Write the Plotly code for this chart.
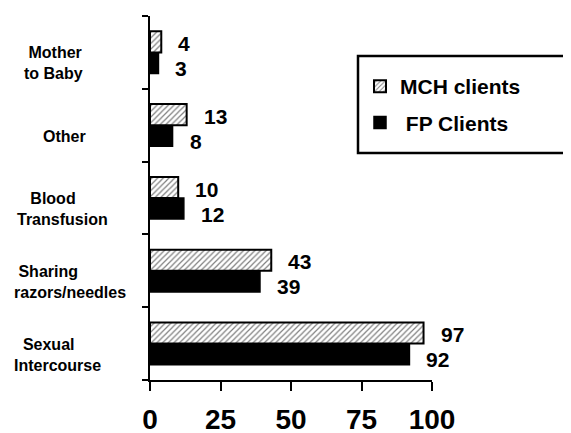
import plotly.graph_objects as go

# categories bottom -> top
categories = ["Sexual Intercourse", "Sharing razors/needles", "Blood Transfusion",
              "Other", "Mother to Baby"]
category_labels = ["\u00a0\u00a0Sexual<br>Intercourse",
                   "\u00a0Sharing<br>razors/needles",
                   "\u00a0\u00a0\u00a0Blood<br>Transfusion",
                   "Other",
                   "\u00a0Mother<br>to Baby"]
label_left_px = [12, 12, 15, 41, 22]

mch_clients = [97, 43, 10, 13, 4]
fp_clients = [92, 39, 12, 8, 3]
x_ticks = [0, 25, 50, 75, 100]

FONT = "Arial, Liberation Sans, sans-serif"
# page body adds an 8px margin, so lay out in page pixels minus that
OFF = 8
W, H = 571 - OFF, 433 - OFF
PLOT_LEFT, PLOT_RIGHT = 150 - OFF, 432 - OFF
PLOT_TOP, PLOT_BOTTOM = 16 - OFF, 380 - OFF
pw = PLOT_RIGHT - PLOT_LEFT
ph = PLOT_BOTTOM - PLOT_TOP

fig = go.Figure()

# FP first so it sits below MCH within each group
fig.add_trace(go.Bar(
    y=categories, x=fp_clients, orientation="h", name="\u00a0FP Clients",
    marker=dict(color="black", line=dict(color="black", width=1.5)),
    legendgroup="fp", legendrank=2,
))
fig.add_trace(go.Bar(
    y=categories, x=mch_clients, orientation="h", name="MCH clients",
    marker=dict(color="white", line=dict(color="black", width=2),
                pattern=dict(shape="/", fgcolor="black", bgcolor="white",
                             size=4, solidity=0.3)),
    legendgroup="mch", legendrank=1,
))

# value labels next to each bar
for cat, v in zip(categories, mch_clients):
    fig.add_annotation(x=v, y=cat, text=str(v), showarrow=False,
                       xanchor="left", xshift=15, yshift=9,
                       font=dict(family=FONT, size=21, color="black", weight="bold"))
for cat, v in zip(categories, fp_clients):
    fig.add_annotation(x=v, y=cat, text=str(v), showarrow=False,
                       xanchor="left", xshift=15, yshift=-16,
                       font=dict(family=FONT, size=21, color="black", weight="bold"))

# category labels to the left of the axis
for cat, lab, lx in zip(categories, category_labels, label_left_px):
    fig.add_annotation(x=0, xref="paper", y=cat, text=lab, showarrow=False,
                       xanchor="left", align="left",
                       xshift=(lx - OFF) - PLOT_LEFT, yshift=-11,
                       font=dict(family=FONT, size=16, color="black", weight="bold"))

# legend frame (runs off the right edge like the original)
fig.add_shape(type="rect", xref="paper", yref="paper",
              x0=(358 - OFF - PLOT_LEFT) / pw, x1=(600 - PLOT_LEFT) / pw,
              y0=(PLOT_BOTTOM - (153 - OFF)) / ph, y1=(PLOT_BOTTOM - (56 - OFF)) / ph,
              line=dict(color="black", width=2.5), fillcolor="white", layer="below")

fig.update_layout(
    width=W, height=H,
    margin=dict(l=PLOT_LEFT, r=W - PLOT_RIGHT, t=PLOT_TOP, b=H - PLOT_BOTTOM,
                autoexpand=False),
    paper_bgcolor="white", plot_bgcolor="rgba(0,0,0,0)",
    barmode="group", bargap=0.42, bargroupgap=0,
    showlegend=True,
    legend=dict(x=(360 - OFF - PLOT_LEFT) / pw, xanchor="left",
                y=(PLOT_BOTTOM - (66 - OFF)) / ph, yanchor="top",
                traceorder="grouped", tracegroupgap=6,
                bgcolor="rgba(0,0,0,0)", borderwidth=0,
                font=dict(family=FONT, size=21, color="black", weight="bold")),
    font=dict(family=FONT, color="black"),
)
fig.update_xaxes(range=[0, 100], tickvals=x_ticks, ticks="outside", ticklen=9,
                 tickwidth=2, tickcolor="black", showline=True, linewidth=2,
                 linecolor="black", showgrid=False, zeroline=False,
                 ticklabelstandoff=4, automargin=False,
                 tickfont=dict(family=FONT, size=28, color="black", weight="bold"))
fig.update_yaxes(type="category", categoryorder="array", categoryarray=categories,
                 tickson="boundaries", ticks="outside", ticklen=6, tickwidth=2,
                 tickcolor="black", showline=True, linewidth=2, linecolor="black",
                 showgrid=False, showticklabels=False, automargin=False)

fig.write_html("out.html")
